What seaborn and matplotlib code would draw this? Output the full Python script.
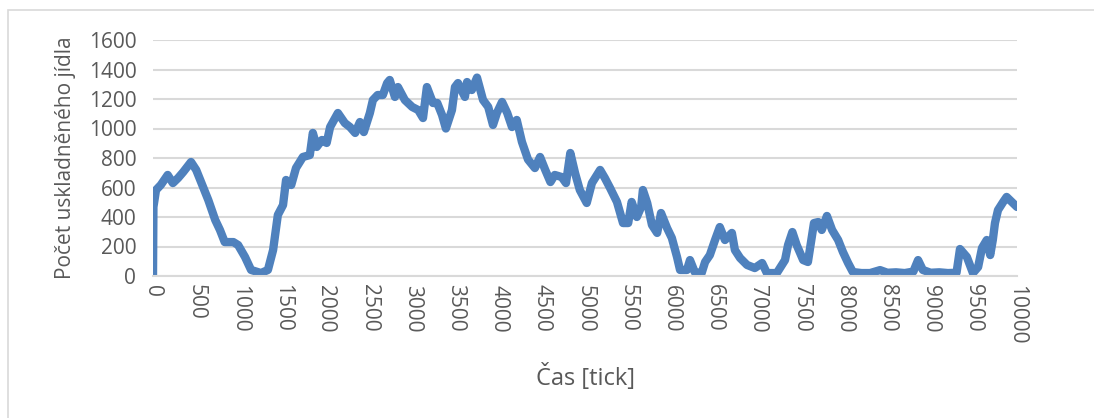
import matplotlib
matplotlib.use("Agg")
import matplotlib.pyplot as plt
from matplotlib.patches import Rectangle
from matplotlib.ticker import MultipleLocator
import numpy as np
import pandas as pd
import seaborn as sns

# Stored food over simulation time
ticks = [
    0, 5, 35, 90, 170, 230, 290, 350, 440, 500, 580, 640, 720, 775, 830, 930,
    985, 1065, 1135, 1250, 1330, 1390, 1445, 1505, 1540, 1600, 1655, 1735,
    1815, 1850, 1895, 1955, 2010, 2050, 2140, 2220, 2280, 2340, 2395, 2440,
    2510, 2545, 2600, 2660, 2710, 2740, 2800, 2835, 2915, 3000, 3070, 3125,
    3170, 3240, 3290, 3345, 3390, 3460, 3495, 3530, 3610, 3635, 3690, 3750,
    3820, 3880, 3935, 3980, 4040, 4100, 4155, 4210, 4270, 4340, 4420, 4480,
    4540, 4600, 4650, 4730, 4780, 4830, 4885, 4940, 5020, 5080, 5175, 5230,
    5290, 5370, 5440, 5500, 5540, 5600, 5650, 5670, 5720, 5775, 5835, 5880,
    5950, 6005, 6065, 6100, 6180, 6215, 6270, 6350, 6390, 6445, 6505, 6560,
    6620, 6700, 6735, 6795, 6875, 6965, 7050, 7105, 7220, 7315, 7350, 7400,
    7450, 7525, 7580, 7625, 7650, 7700, 7740, 7800, 7860, 7930, 7985, 8045,
    8100, 8200, 8300, 8415, 8500, 8600, 8700, 8800, 8855, 8910, 9000, 9100,
    9200, 9300, 9340, 9420, 9490, 9550, 9595, 9650, 9690, 9720, 9745, 9780,
    9840, 9880, 9940, 10000,
]
food = [
    0, 468, 583, 617, 685, 630, 664, 705, 773, 719, 603, 515, 380, 312, 230, 230,
    210, 129, 41, 20, 41, 176, 414, 481, 651, 617, 732, 807,
    820, 970, 875, 922, 902, 1010, 1105, 1037, 1010, 970, 1044, 976,
    1105, 1193, 1227, 1227, 1308, 1329, 1214, 1281, 1193, 1146, 1125, 1071,
    1281, 1173, 1173, 1092, 1000, 1125, 1281, 1308, 1214, 1315, 1261, 1345,
    1193, 1146, 1024, 1105, 1180, 1105, 1010, 1058, 909, 790, 732, 807,
    719, 637, 685, 671, 630, 834, 698, 583, 495, 630, 719, 664,
    597, 502, 359, 359, 502, 400, 468, 583, 495, 346, 292, 427,
    325, 258, 129, 41, 41, 108, 27, 20, 95, 142, 244, 332,
    244, 292, 176, 122, 75, 54, 88, 20, 20, 108, 210, 298,
    210, 108, 95, 264, 359, 366, 312, 407, 312, 244, 163, 88,
    27, 20, 20, 40, 22, 25, 20, 30, 108, 41, 22, 25,
    20, 22, 183, 129, 20, 61, 190, 244, 142, 244, 359, 447,
    502, 536, 502, 468,
]

df = pd.DataFrame({"Čas": ticks, "Jídlo": food})

sns.set_theme(style="white")
plt.rcParams["font.family"] = ["Open Sans", "DejaVu Sans"]

W, H = 1094, 418
fig = plt.figure(figsize=(W / 100, H / 100), dpi=100)
ax = fig.add_axes([153 / W, 1 - 276 / H, (1017 - 153) / W, (276 - 40) / H])

# Chart frame
fig.patches.append(Rectangle((8 / W, -0.1), 1.2, 1 - 10 / H + 0.1,
                             transform=fig.transFigure, fill=False,
                             edgecolor="#D9D9D9", linewidth=1.2))

sns.lineplot(data=df, x="Čas", y="Jídlo", ax=ax, color="#4F81BD",
             linewidth=6, solid_joinstyle="round", solid_capstyle="round")

ax.set_xlim(0, 10000)
ax.set_ylim(0, 1600)
ax.yaxis.set_major_locator(MultipleLocator(200))
ax.grid(axis="y", color="#D9D9D9", linewidth=1.5)
ax.set_axisbelow(True)
for s in ["top", "right", "left"]:
    ax.spines[s].set_visible(False)
ax.spines["bottom"].set_color("#D9D9D9")
ax.spines["bottom"].set_linewidth(1.5)

grey = "#595959"
major = list(range(0, 10001, 1000))
minor = list(range(500, 10000, 1000))
ax.set_xticks(major, labels=[str(v) for v in major])
ax.set_xticks(minor, labels=[str(v) for v in minor], minor=True)
ax.tick_params(axis="x", which="major", direction="inout", length=9, width=1.5,
               color="#D9D9D9", labelsize=15, labelcolor=grey, labelrotation=-90, pad=2)
ax.tick_params(axis="x", which="minor", direction="in", length=5, width=1.5,
               color="#D9D9D9", labelsize=15, labelcolor=grey, labelrotation=-90, pad=6)
ax.tick_params(axis="y", length=0, labelsize=15, labelcolor=grey, pad=12)

ax.set_xlabel("Čas [tick]", fontsize=17, color=grey, labelpad=14)
ax.set_ylabel("Počet uskladněného jídla", fontsize=15, color=grey, labelpad=9)

fig.savefig("out.png", dpi=100)
